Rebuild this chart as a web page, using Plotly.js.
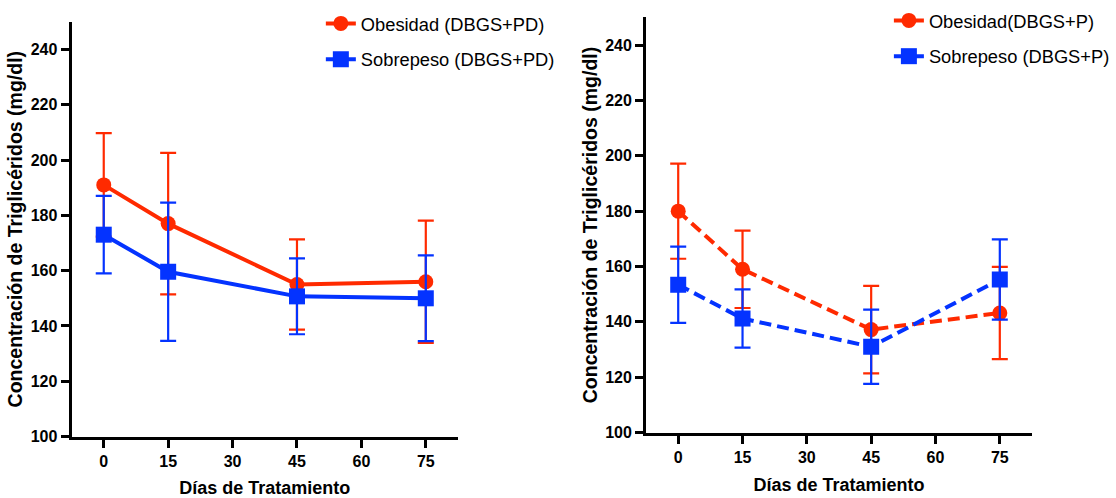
<!DOCTYPE html>
<html>
<head>
<meta charset="utf-8">
<script src="https://cdn.plot.ly/plotly-3.0.1.min.js"></script>
<style>
  html, body { margin: 0; padding: 0; background: #fff; }
  #chart { width: 1116px; height: 498px; }
</style>
</head>
<body>
<div id="chart"></div>
<script>
// Treatment days sampled in both studies
const dias = [0, 15, 45, 75];
const xTicks = [0, 15, 30, 45, 60, 75];
const yTicks = [100, 120, 140, 160, 180, 200, 220, 240];

// Left panel: DBGS + PD (mean ± SEM, mg/dl)
const obesidadPD = [191, 177, 155, 156];
const obesidadPDErr = [18.7, 25.6, 16.3, 22.1];
const sobrepesoPD = [173, 159.6, 150.7, 150];
const sobrepesoPDErr = [14, 25, 13.7, 15.5];

// Right panel: DBGS + P (mean ± SEM, mg/dl)
const obesidadP = [180, 159, 137.2, 143.2];
const obesidadPErr = [17.2, 14, 15.8, 16.7];
const sobrepesoP = [153.4, 141.2, 131, 155.3];
const sobrepesoPErr = [13.8, 10.5, 13.4, 14.5];

const nombres = {
  obPD: 'Obesidad (DBGS+PD)',
  soPD: 'Sobrepeso (DBGS+PD)',
  obP: 'Obesidad(DBGS+P)',
  soP: 'Sobrepeso (DBGS+P)'
};

const ROJO = '#FF2A00';
const AZUL = '#0433FF';

function serie(y, err, name, color, symbol, dash, xa, ya, legend, group) {
  return {
    type: 'scatter', mode: 'lines+markers',
    x: dias, y: y, name: name,
    xaxis: xa, yaxis: ya, legend: legend, legendgroup: group,
    line: { color: color, width: 4, dash: dash },
    marker: { color: color, size: symbol === 'square' ? 16 : 15, symbol: symbol },
    error_y: { type: 'data', array: err, visible: true, color: color, thickness: 2.2, width: 8 },
    cliponaxis: false
  };
}

const data = [
  serie(obesidadPD, obesidadPDErr, nombres.obPD, ROJO, 'circle', 'solid', 'x', 'y', 'legend', 'a'),
  serie(sobrepesoPD, sobrepesoPDErr, nombres.soPD, AZUL, 'square', 'solid', 'x', 'y', 'legend', 'b'),
  serie(obesidadP, obesidadPErr, nombres.obP, ROJO, 'circle', '12px,6px', 'x2', 'y2', 'legend2', 'c'),
  serie(sobrepesoP, sobrepesoPErr, nombres.soP, AZUL, 'square', '12px,6px', 'x2', 'y2', 'legend2', 'd')
];

const tickFont = { family: 'Liberation Sans, Arial, sans-serif', size: 16, color: '#000', weight: 'bold' };
const xTitleFont = { family: 'Liberation Sans, Arial, sans-serif', size: 18, color: '#000', weight: 'bold' };
const yTitleFont = { family: 'Liberation Sans, Arial, sans-serif', size: 19.5, color: '#000', weight: 'bold' };
const legendFont = { family: 'Liberation Sans, Arial, sans-serif', size: 18.3, color: '#000' };

function ejeX(domain, anchor) {
  return {
    domain: domain, anchor: anchor, range: [-7.5, 82.5],
    tickvals: xTicks, ticktext: xTicks.map(String),
    ticks: 'outside', ticklen: 8, tickwidth: 3, tickcolor: '#000',
    showline: true, linewidth: 3, linecolor: '#000',
    showgrid: false, zeroline: false, tickfont: tickFont,
    automargin: false,
    title: { text: 'Días de Tratamiento', font: xTitleFont, standoff: 14 }
  };
}
function ejeY(domain, anchor) {
  return {
    domain: domain, anchor: anchor, range: [100, 250],
    tickvals: yTicks, ticktext: yTicks.map(String),
    ticks: 'outside', ticklen: 8, tickwidth: 3, tickcolor: '#000',
    showline: true, linewidth: 3, linecolor: '#000',
    showgrid: false, zeroline: false, tickfont: tickFont,
    automargin: false,
    title: { text: 'Concentración de Triglicéridos (mg/dl)', font: yTitleFont, standoff: 3 }
  };
}

const layout = {
  width: 1116, height: 498,
  margin: { l: 0, r: 0, t: 0, b: 0 },
  paper_bgcolor: '#fff', plot_bgcolor: '#fff',
  showlegend: true,
  xaxis: ejeX([0.0641, 0.4104], 'y'),
  yaxis: ejeY([0.1233, 0.9564], 'x'),
  xaxis2: ejeX([0.5789, 0.9247], 'y2'),
  yaxis2: ejeY([0.1315, 0.9649], 'x2'),
  legend: {
    x: 0.2875, y: 0.99, xanchor: 'left', yanchor: 'top',
    font: legendFont, bgcolor: 'rgba(0,0,0,0)', borderwidth: 0,
    traceorder: 'grouped', tracegroupgap: 9
  },
  legend2: {
    x: 0.7965, y: 0.996, xanchor: 'left', yanchor: 'top',
    font: legendFont, bgcolor: 'rgba(0,0,0,0)', borderwidth: 0,
    traceorder: 'grouped', tracegroupgap: 9
  }
};

Plotly.newPlot('chart', data, layout, { staticPlot: true, displayModeBar: false });
</script>
</body>
</html>
